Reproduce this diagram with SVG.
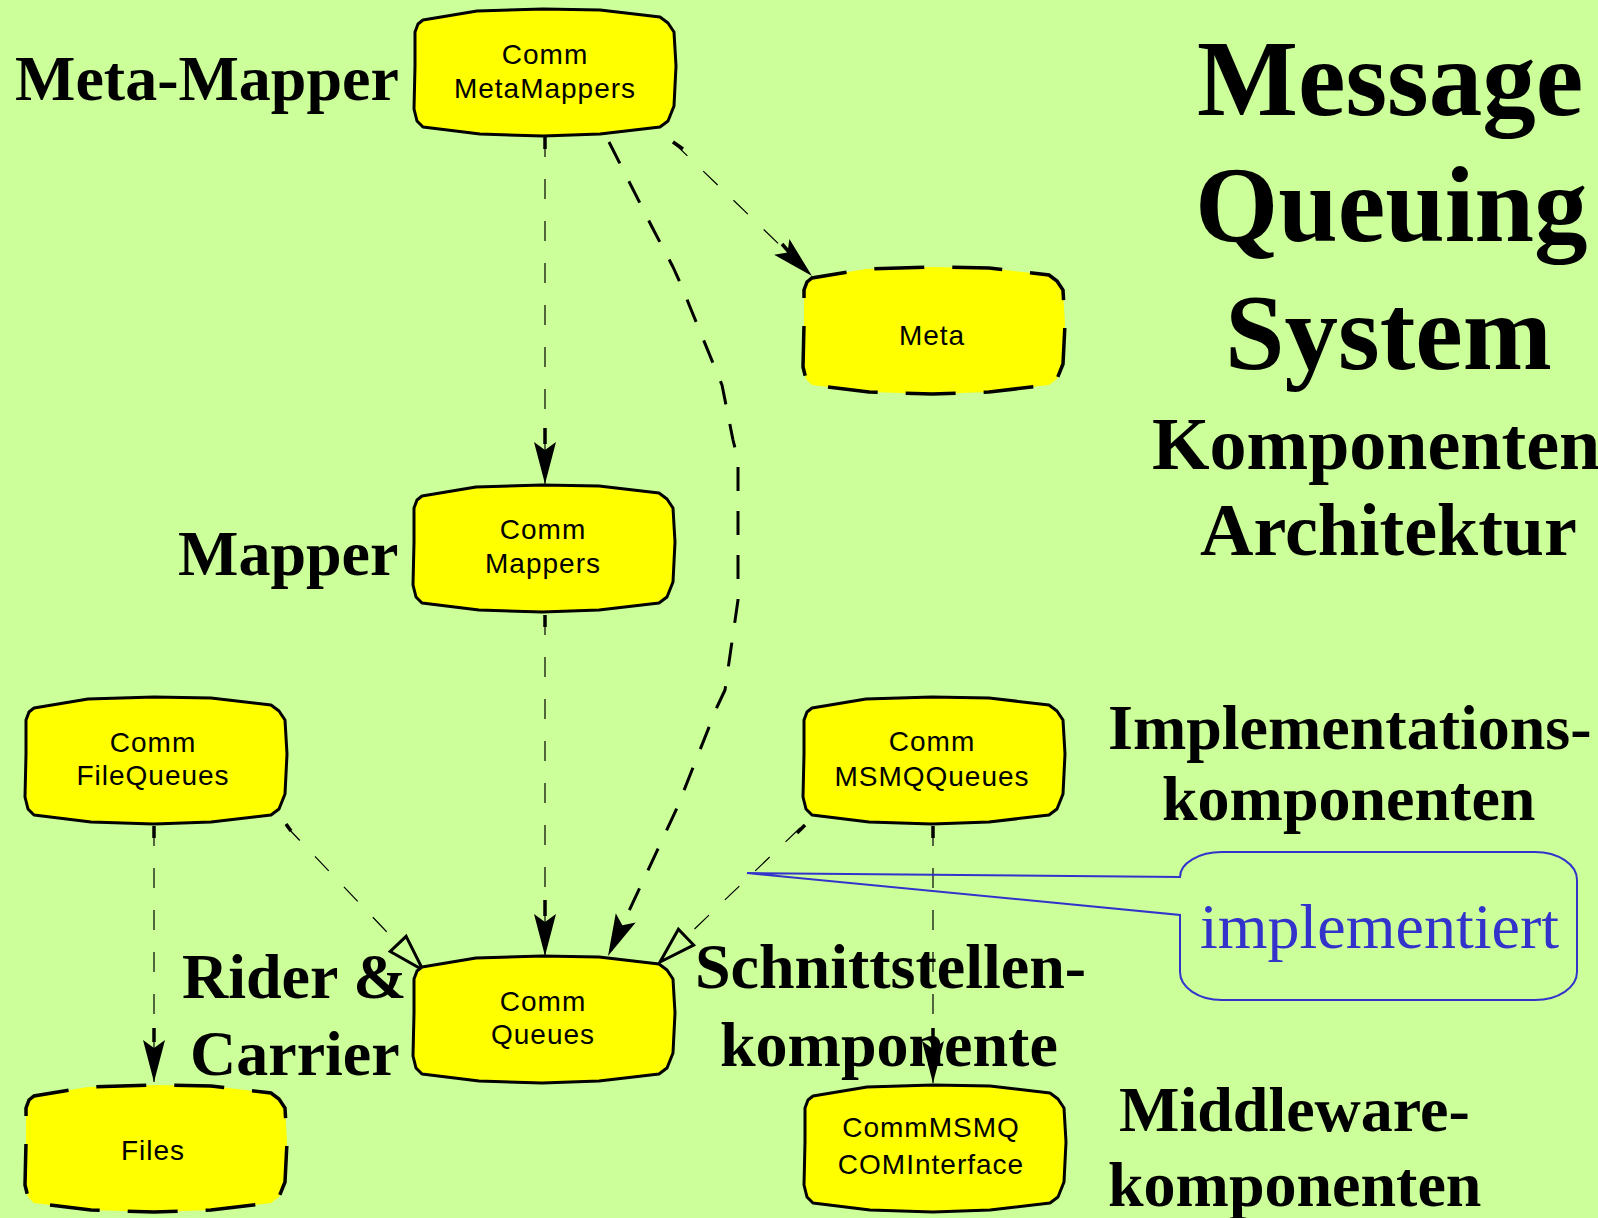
<svg xmlns="http://www.w3.org/2000/svg" xmlns:xlink="http://www.w3.org/1999/xlink" width="1598" height="1218" viewBox="0 0 1598 1218">
  <style>
    .node { fill: #ffff00; stroke: #000; stroke-width: 3; stroke-linejoin: round; }
    .node-dash { fill: #ffff00; stroke: #000; stroke-width: 3.5; stroke-dasharray: 50 28; }
    .ntext { font-family: "Liberation Sans", Arial, sans-serif; font-size: 28px; letter-spacing: 1px; fill: #000; text-anchor: middle; }
    .thin { fill: none; stroke: #000; stroke-width: 1.2; stroke-dasharray: 20 22; }
    .thick { fill: none; stroke: #000; stroke-width: 3; stroke-dasharray: 24 20; stroke-linejoin: round; }
    .stub { fill: none; stroke: #000; stroke-width: 3.5; }
    .label { font-family: "Liberation Serif", "Times New Roman", serif; font-weight: bold; font-size: 64px; fill: #000; }
    .title { font-family: "Liberation Serif", "Times New Roman", serif; font-weight: bold; font-size: 107px; fill: #000; }
    .subtitle { font-family: "Liberation Serif", "Times New Roman", serif; font-weight: bold; font-size: 74px; fill: #000; }
    .note { fill: none; stroke: #3333cc; stroke-width: 2; }
    .notetext { font-family: "Liberation Serif", "Times New Roman", serif; font-size: 64px; fill: #3333cc; }
  </style>
  <defs>
    <path id="blob" d="M1,23 L4,15 L9,11 L63,2 L129,0 L186,1 L246,8 L254,14 L260,23 L262,57 L260,97 L254,112 L246,118 L186,125 L129,127 L66,125 L9,118 L3,112 L0,100 L1,57 Z"/>
    <marker id="tip" markerUnits="userSpaceOnUse" markerWidth="44" markerHeight="26" refX="42" refY="12" orient="auto" overflow="visible">
      <path d="M0,1 L42,12 L0,23 L8,12 Z" fill="#000"/>
    </marker>
    <marker id="open" markerUnits="userSpaceOnUse" markerWidth="42" markerHeight="28" refX="37" refY="12" orient="auto" overflow="visible">
      <path d="M1,1 L37,12 L1,23 Z" fill="#ccff99" stroke="#000" stroke-width="3"/>
    </marker>
  </defs>

  <rect x="0" y="0" width="1598" height="1218" fill="#ccff99"/>

  <!-- connectors -->
  <g id="connectors">
    <!-- MetaMappers -> Mappers -->
    <path class="thin" d="M545,137 L545,484" marker-end="url(#tip)"/>
    <path class="stub" d="M545,137 L545,149 M545,428 L545,444"/>
    <!-- MetaMappers -> Queues -->
    <path class="thick" d="M609,142 L652,227 L673,267 L682,287 L690,307 L722,385 L733,440 L738,460 L738,600 L725,690 L717,707 L677,808 L608,956" marker-end="url(#tip)"/>
    <!-- MetaMappers -> Meta -->
    <path class="thin" d="M673,142 L812,276" marker-end="url(#tip)"/>
    <path class="stub" d="M673,142 L683,149 M782,244 L789,252"/>
    <!-- Mappers -> Queues -->
    <path class="thin" d="M545,615 L545,956" marker-end="url(#tip)"/>
    <path class="stub" d="M545,615 L545,627 M545,900 L545,916"/>
    <!-- FileQueues -> Queues -->
    <path class="thin" d="M286,826 L423,970" marker-end="url(#open)"/>
    <path class="stub" d="M286,824 L291,831"/>
    <!-- MSMQQueues -> Queues -->
    <path class="thin" d="M800,828 L660,962" marker-end="url(#open)"/>
    <path class="stub" d="M805,825 L797,833"/>
    <!-- FileQueues -> Files -->
    <path class="thin" d="M154,826 L154,1082" marker-end="url(#tip)"/>
    <path class="stub" d="M154,826 L154,838 M154,1028 L154,1042"/>
    <!-- MSMQQueues -> CommMSMQ COMInterface -->
    <path class="thin" d="M933,826 L933,1083" marker-end="url(#tip)"/>
    <path class="stub" d="M933,826 L933,838 M933,1028 L933,1042"/>
  </g>

  <!-- nodes -->
  <g id="node-metamappers">
    <use xlink:href="#blob" href="#blob" x="414" y="9" class="node"/>
    <text class="ntext" x="545" y="64">Comm</text>
    <text class="ntext" x="545" y="98">MetaMappers</text>
  </g>
  <g id="node-meta">
    <use xlink:href="#blob" href="#blob" x="803" y="267" class="node-dash"/>
    <text class="ntext" x="932" y="345">Meta</text>
  </g>
  <g id="node-mappers">
    <use xlink:href="#blob" href="#blob" x="413" y="485" class="node"/>
    <text class="ntext" x="543" y="539">Comm</text>
    <text class="ntext" x="543" y="573">Mappers</text>
  </g>
  <g id="node-filequeues">
    <use xlink:href="#blob" href="#blob" x="25" y="697" class="node"/>
    <text class="ntext" x="153" y="752">Comm</text>
    <text class="ntext" x="153" y="785">FileQueues</text>
  </g>
  <g id="node-queues">
    <use xlink:href="#blob" href="#blob" x="413" y="956" class="node"/>
    <text class="ntext" x="543" y="1011">Comm</text>
    <text class="ntext" x="543" y="1044">Queues</text>
  </g>
  <g id="node-msmqqueues">
    <use xlink:href="#blob" href="#blob" x="803" y="697" class="node"/>
    <text class="ntext" x="932" y="751">Comm</text>
    <text class="ntext" x="932" y="786">MSMQQueues</text>
  </g>
  <g id="node-files">
    <use xlink:href="#blob" href="#blob" x="25" y="1085" class="node-dash"/>
    <text class="ntext" x="153" y="1160">Files</text>
  </g>
  <g id="node-msmqcom">
    <use xlink:href="#blob" href="#blob" x="804" y="1085" class="node"/>
    <text class="ntext" x="931" y="1137">CommMSMQ</text>
    <text class="ntext" x="931" y="1174">COMInterface</text>
  </g>

  <!-- layer labels -->
  <g id="labels">
    <text class="label" x="15" y="100">Meta-Mapper</text>
    <text class="label" x="178" y="575">Mapper</text>
    <text class="label" x="182" y="998">Rider &amp;</text>
    <text class="label" x="190" y="1075">Carrier</text>
    <text class="label" x="695" y="988">Schnittstellen-</text>
    <text class="label" x="720" y="1066">komponente</text>
    <text class="label" x="1108" y="749">Implementations-</text>
    <text class="label" x="1162" y="820">komponenten</text>
    <text class="label" x="1119" y="1131">Middleware-</text>
    <text class="label" x="1108" y="1206">komponenten</text>
  </g>

  <!-- title -->
  <g id="title">
    <text class="title" x="1197" y="115">Message</text>
    <text class="title" x="1195" y="241">Queuing</text>
    <text class="title" x="1225" y="369">System</text>
    <text class="subtitle" x="1152" y="469">Komponenten</text>
    <text class="subtitle" x="1200" y="555">Architektur</text>
  </g>

  <!-- callout -->
  <g id="note-implementiert">
    <path class="note" d="M747,873 L1180,877 A42,25 0 0 1 1222,852 L1535,852 A42,28 0 0 1 1577,880 L1577,972 A42,28 0 0 1 1535,1000 L1222,1000 A42,28 0 0 1 1180,972 L1180,915 Z"/>
    <text class="notetext" x="1200" y="948">implementiert</text>
  </g>
</svg>
